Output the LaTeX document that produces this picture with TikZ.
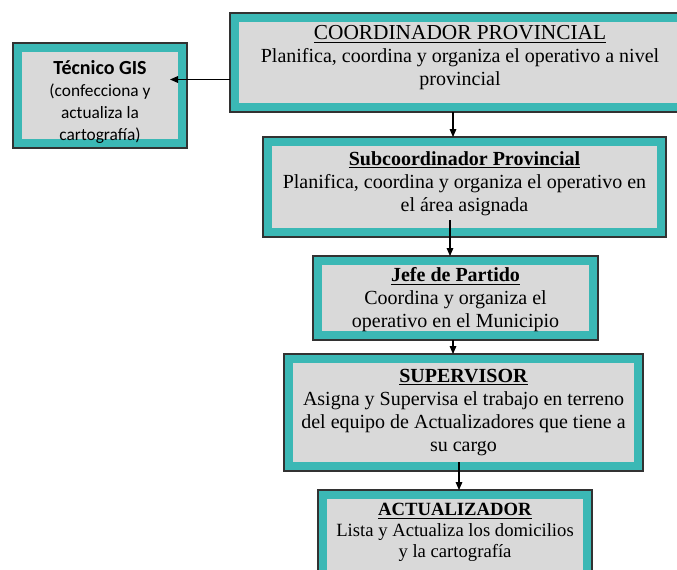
\documentclass[tikz,border=0pt]{standalone}
\usepackage{fontspec}
\setmainfont{Liberation Serif}
\newfontfamily\gisfont{Carlito}
\usetikzlibrary{arrows.meta}
\definecolor{boxteal}{RGB}{59,184,181}
\definecolor{boxgray}{RGB}{217,217,217}
\definecolor{boxline}{RGB}{50,50,50}
\newcommand{\boxtitle}[1]{\underline{\textbf{#1}}}
\newcommand{\padtop}[1]{\rule{0pt}{#1}}
\newcommand{\padbot}[1]{\rule[-#1]{0pt}{#1}}

\begin{document}
\begin{tikzpicture}[x=0.75pt,y=-0.75pt,
	orgbox/.style={rectangle, fill=boxgray, draw=boxteal, line width=7pt, inner sep=0pt, align=center, font=\fontsize{15}{17.25}\selectfont},
	link/.style={-{Triangle[length=6pt,width=5pt]}, line width=0.8pt, draw=black}]
	\useasboundingbox (0,0) rectangle (677,569);

	\node[orgbox, minimum width=338pt, minimum height=67.25pt] (coord) at (460,62.5)
		{\underline{\fontsize{16}{18}\selectfont COORDINADOR PROVINCIAL}\\Planifica, coordina y organiza el operativo a nivel\\provincial\padbot{10pt}};
	\node[orgbox, minimum width=295.25pt, minimum height=68pt] (sub) at (464.5,187)
		{\boxtitle{Subcoordinador Provincial}\\Planifica, coordina y organiza el operativo en\\el área asignada\padbot{8pt}};
	\node[orgbox, minimum width=206.75pt, minimum height=56pt] (jefe) at (455.5,298)
		{\padtop{13.5pt}\boxtitle{Jefe de Partido}\\Coordina y organiza el\\operativo en el Municipio};
	\node[orgbox, minimum width=262.25pt, minimum height=80.75pt] (sup) at (463.5,412.5)
		{\boxtitle{SUPERVISOR}\\Asigna y Supervisa el trabajo en terreno\\del equipo de Actualizadores que tiene a\\su cargo};
	\node[orgbox, minimum width=198.5pt, minimum height=62pt, font=\fontsize{14}{15.75}\selectfont] (act) at (455,536)
		{\boxtitle{ACTUALIZADOR}\\Lista y Actualiza los domicilios\\y la cartografía\padbot{7.8pt}};
	\node[orgbox, minimum width=123.5pt, minimum height=68.75pt, font=\gisfont\fontsize{13}{16.5}\selectfont] (tec) at (100,95.5)
		{\padtop{20pt}{\fontsize{15}{16.5}\selectfont\textbf{Técnico GIS}}\\(confecciona y\\actualiza la\\cartografía)};

	\foreach \n in {coord,sub,jefe,sup,act,tec}
		\draw[boxline, line width=0.9pt] (\n.north west) rectangle (\n.south east);

	\coordinate (gistip) at ([xshift=-12.75pt,yshift=12pt]tec.east);
	\draw[link] (coord.west |- gistip) -- (gistip);
	\draw[link] ([xshift=-5.25pt]coord.south) -- ([xshift=-5.25pt]coord.south |- sub.north);
	\draw[link] ([xshift=-10.875pt,yshift=12.75pt]sub.south) -- ([xshift=-10.875pt]sub.south |- jefe.north);
	\draw[link] ([xshift=-1.875pt]jefe.south) -- ([xshift=-1.875pt]jefe.south |- sup.north);
	\draw[link] ([xshift=-3.375pt,yshift=6.75pt]sup.south) -- ([xshift=-3.375pt]sup.south |- act.north);
\end{tikzpicture}
\end{document}
